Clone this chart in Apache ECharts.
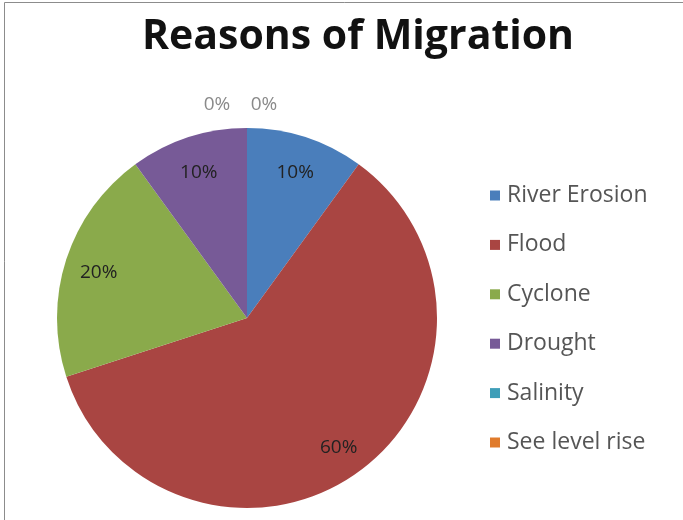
<!DOCTYPE html>
<html>
<head>
<meta charset="utf-8">
<script src="https://cdn.jsdelivr.net/npm/echarts@6/dist/echarts.min.js"></script>
<style>
  html, body { margin: 0; padding: 0; background: #fff; }
  #pie { width: 683px; height: 520px; }
</style>
</head>
<body>
<div id="pie"></div>
<script>
'use strict'
var reasons = ['River Erosion', 'Flood', 'Cyclone', 'Drought', 'Salinity', 'See level rise'];
var shares = [10, 60, 20, 10, 0, 0];
var colors = ['#4A7EBB', '#A94542', '#8AAA4B', '#775A97', '#3E9EB8', '#E07B2C'];

var pieChart = echarts.init(document.getElementById('pie'));
var pieData = reasons.map(function (name, i) {
    return { name: name, value: shares[i], itemStyle: { color: colors[i] } };
});
var labelData = reasons.map(function (name, i) {
    return { name: name, value: shares[i] };
});

var option = {
    backgroundColor: '#fff',
    animation: false,
    title: {
        text: 'Reasons of Migration',
        left: 353,
        top: 12,
        textAlign: 'center',
        textStyle: { fontFamily: 'Open Sans', fontWeight: 'bold', fontSize: 41, color: '#111' }
    },
    legend: {
        orient: 'vertical',
        left: 485,
        top: 179,
        itemWidth: 10,
        itemHeight: 10,
        itemGap: 26.4,
        icon: 'rect',
        data: reasons,
        textStyle: { fontFamily: 'Open Sans', fontSize: 23, color: '#555', padding: [0, 0, 0, 2] }
    },
    graphic: [{
        type: 'rect',
        shape: { x: 4.5, y: 2.5, width: 720, height: 600 },
        style: { fill: 'none', stroke: '#8c8c8c', lineWidth: 1 },
        silent: true
    }],
    series: [{
        name: 'Reasons',
        type: 'pie',
        center: [247, 318],
        radius: [0, 190],
        startAngle: 90,
        label: { show: false },
        labelLine: { show: false },
        emphasis: { disabled: true },
        data: pieData
    }, {
        // transparent ring only used to place the percent labels
        name: 'labels',
        type: 'pie',
        center: [247, 318],
        radius: [116, 190],
        startAngle: 90,
        silent: true,
        legendHoverLink: false,
        percentPrecision: 0,
        itemStyle: { color: 'rgba(0,0,0,0)' },
        label: {
            show: true,
            position: 'inside',
            fontFamily: 'Open Sans',
            fontSize: 19,
            color: '#222',
            formatter: function (p) { return Math.round(p.percent) + '%'; }
        },
        labelLine: { show: false },
        labelLayout: function (p) {
            if (p.dataIndex === 4) return { dx: -30, dy: -57 };
            if (p.dataIndex === 5) return { dx: 17, dy: -57 };
            return { dy: 3 };
        },
        data: labelData.map(function (d, i) {
            if (shares[i] === 0) {
                return { name: d.name, value: d.value, label: { color: '#8a8a8a' } };
            }
            return d;
        })
    }]
};
pieChart.setOption(option);
</script>
</body>
</html>
